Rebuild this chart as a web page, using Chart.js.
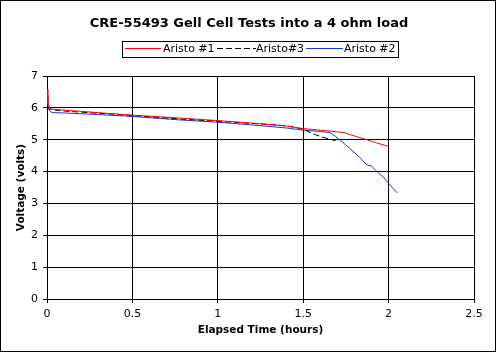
<!DOCTYPE html>
<html>
<head>
<meta charset="utf-8">
<script src="https://cdn.jsdelivr.net/npm/chart.js@4.4.1/dist/chart.umd.min.js"></script>
<style>
  html, body { margin: 0; padding: 0; background: #fff; }
  #wrap { width: 496px; height: 352px; }
</style>
</head>
<body>
<div id="wrap"><canvas id="gelChart" width="496" height="352"></canvas></div>
<script>
// Discharge readings
const chartTitle = 'CRE-55493 Gell Cell Tests into a 4 ohm load';
const seriesNames = ['Aristo #1', 'Aristo#3', 'Aristo #2'];

const timeAristo1 = [0, 0.005, 0.015, 0.03, 0.1, 0.3, 0.5, 0.78, 1.0, 1.23, 1.4, 1.5, 1.6, 1.68, 1.74, 1.8, 1.86, 1.93, 2.0];
const voltAristo1 = [6.58, 6.2, 6.0, 5.96, 5.93, 5.85, 5.77, 5.68, 5.6, 5.51, 5.43, 5.35, 5.3, 5.26, 5.22, 5.12, 5.02, 4.9, 4.79];

const timeAristo3 = [0, 0.01, 0.03, 0.1, 0.3, 0.5, 0.78, 1.0, 1.23, 1.36, 1.44, 1.5, 1.56, 1.62, 1.69];
const voltAristo3 = [6.05, 5.97, 5.94, 5.9, 5.83, 5.76, 5.65, 5.58, 5.5, 5.46, 5.4, 5.33, 5.18, 5.07, 4.97];

const timeAristo2 = [0, 0.005, 0.015, 0.03, 0.1, 0.3, 0.5, 0.78, 1.0, 1.23, 1.4, 1.5, 1.6, 1.66, 1.69, 1.72, 1.77, 1.83, 1.87, 1.9, 1.94, 1.97, 2.0, 2.05];
const voltAristo2 = [6.4, 6.1, 5.9, 5.85, 5.84, 5.79, 5.73, 5.62, 5.55, 5.45, 5.37, 5.3, 5.26, 5.22, 5.1, 4.97, 4.74, 4.45, 4.22, 4.17, 3.96, 3.82, 3.63, 3.33];

const xTicks = [0, 0.5, 1, 1.5, 2, 2.5];
const yTicks = [0, 1, 2, 3, 4, 5, 6, 7];

const colors = ['#ff0000', '#000000', '#1c35cc'];
const dashes = [[], [6, 3], []];

function toPoints(ts, vs) {
    return ts.map((t, i) => ({ x: t, y: vs[i] }));
}

const FONT = "'DejaVu Sans', Verdana, sans-serif";

// title, boxed legend and outer frame
const framePlugin = {
    id: 'frame',
    afterDraw(chart) {
        const ctx = chart.ctx;
        ctx.save();
        ctx.fillStyle = '#000';
        ctx.font = 'bold 13px ' + FONT;
        ctx.textAlign = 'center';
        ctx.textBaseline = 'alphabetic';
        ctx.fillText(chartTitle, 249, 27);

        // legend box
        ctx.strokeStyle = '#000';
        ctx.lineWidth = 1;
        ctx.strokeRect(122.5, 41.5, 276, 16);

        const items = [
            { x1: 125, x2: 161, tx: 163 },
            { x1: 217, x2: 256, tx: 256 },
            { x1: 306, x2: 343, tx: 344 }
        ];
        ctx.font = '11px ' + FONT;
        ctx.textAlign = 'left';
        items.forEach((it, i) => {
            ctx.beginPath();
            ctx.strokeStyle = colors[i];
            ctx.setLineDash(dashes[i]);
            ctx.moveTo(it.x1, 48.5);
            ctx.lineTo(it.x2, 48.5);
            ctx.stroke();
            ctx.setLineDash([]);
            ctx.fillText(seriesNames[i], it.tx, 52);
        });

        ctx.strokeStyle = '#000';
        ctx.strokeRect(0.5, 0.5, 495, 351);
        ctx.restore();
    }
};

const datasets = [
    [timeAristo1, voltAristo1],
    [timeAristo3, voltAristo3],
    [timeAristo2, voltAristo2]
].map((d, i) => ({
    label: seriesNames[i],
    data: toPoints(d[0], d[1]),
    borderColor: colors[i],
    borderDash: dashes[i],
    borderWidth: 1,
    pointRadius: 0,
    tension: 0,
    fill: false
}));

Chart.defaults.font.family = FONT;
Chart.defaults.color = '#000';

new Chart(document.getElementById('gelChart').getContext('2d'), {
    type: 'line',
    data: { datasets: datasets },
    plugins: [framePlugin],
    options: {
        responsive: false,
        animation: false,
        devicePixelRatio: 1,
        layout: { padding: { left: 0, top: 76, right: 22, bottom: 0 } },
        plugins: {
            legend: { display: false },
            title: { display: false },
            tooltip: { enabled: false }
        },
        scales: {
            x: {
                type: 'linear',
                min: 0,
                max: 2.5,
                afterFit: s => { s.height = 53; },
                afterBuildTicks: s => { s.ticks = xTicks.map(v => ({ value: v })); },
                grid: { color: '#000', lineWidth: 1, tickLength: 4 },
                border: { color: '#000' },
                ticks: { font: { size: 11 }, padding: 5, maxRotation: 0, callback: v => String(v) },
                title: {
                    display: true,
                    text: 'Elapsed Time (hours)',
                    font: { size: 10.5, weight: 'bold' },
                    padding: { top: 0, bottom: 15 }
                }
            },
            y: {
                min: 0,
                max: 7,
                afterFit: s => { s.width = 47; },
                afterBuildTicks: s => { s.ticks = yTicks.map(v => ({ value: v })); },
                grid: { color: '#000', lineWidth: 1, tickLength: 4 },
                border: { color: '#000' },
                ticks: { font: { size: 11 }, padding: 5, callback: v => String(v) },
                title: {
                    display: true,
                    text: 'Voltage (volts)',
                    font: { size: 10.5, weight: 'bold' },
                    padding: { top: 15, bottom: 0 }
                }
            }
        }
    }
});
</script>
</body>
</html>
